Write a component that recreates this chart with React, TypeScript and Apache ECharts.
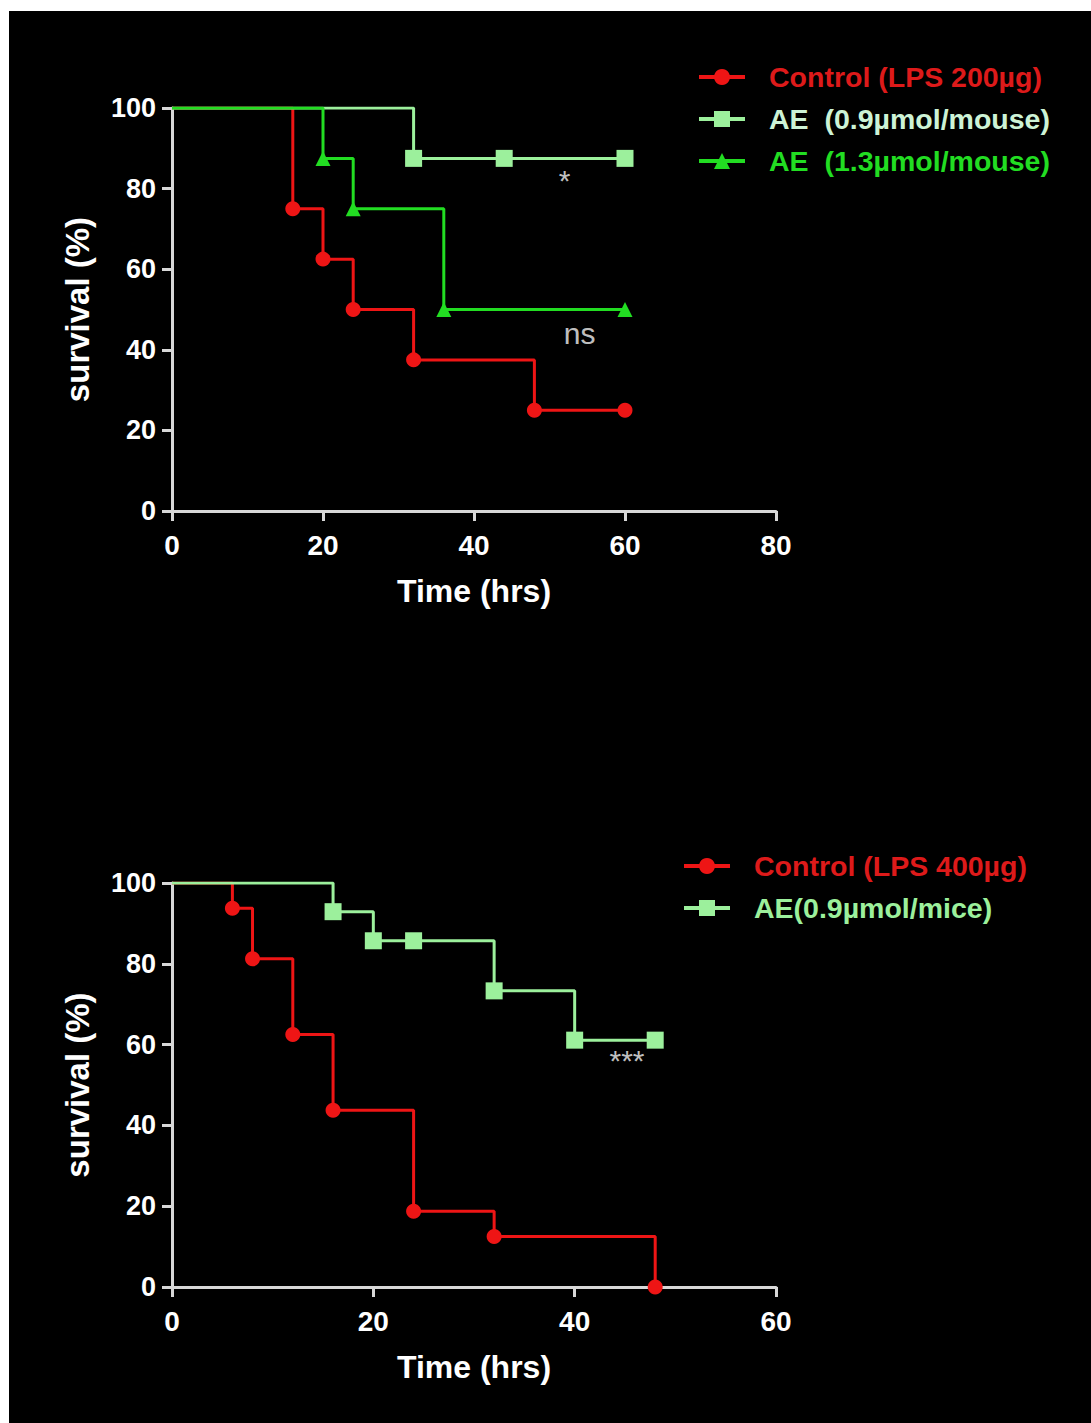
import React, { useEffect, useRef } from "react";
import * as echarts from "echarts";

// ---- Data: top panel (LPS 200 µg) ----
const TOP_CTRL_T = [0, 16, 20, 24, 32, 48, 60];
const TOP_CTRL_S = [100, 75, 62.5, 50, 37.5, 25, 25];
const TOP_AE09_T = [0, 32, 44, 60];
const TOP_AE09_S = [100, 87.5, 87.5, 87.5];
const TOP_AE13_T = [0, 20, 24, 36, 60];
const TOP_AE13_S = [100, 87.5, 75, 50, 50];

// ---- Data: bottom panel (LPS 400 µg) ----
const BOT_CTRL_T = [0, 6, 8, 12, 16, 24, 32, 48];
const BOT_CTRL_S = [100, 93.75, 81.25, 62.5, 43.75, 18.75, 12.5, 0];
const BOT_AE_T = [0, 16, 20, 24, 32, 40, 48];
const BOT_AE_S = [100, 92.9, 85.7, 85.7, 73.3, 61.1, 61.1];

// ---- Names / labels ----
const TOP_NAMES = ["Control (LPS 200µg)", "AE\u00a0 (0.9µmol/mouse)", "AE\u00a0 (1.3µmol/mouse)"];
const BOT_NAMES = ["Control (LPS 400µg)", "AE(0.9µmol/mice)"];
const X_TITLE = "Time (hrs)";
const Y_TITLE = "survival (%)";

// annotations: [x, y, text]
const TOP_NOTES: [number, number, string][] = [
  [52, 82, "*"],
  [54, 44, "ns"],
];
const BOT_NOTES: [number, number, string][] = [[45.2, 56, "***"]];

const RED = "#ee1515";
const LIGHT = "#9cf09c";
const BRIGHT = "#22dd22";
const AXIS = "#d8d8d8";
const SANS = "'Liberation Sans', Arial, sans-serif";

function km(t: number[], s: number[]) {
  return t.map((x, i) => (i === 0 ? { value: [x, s[i]], symbol: "none" } : { value: [x, s[i]] }));
}

function stepSeries(name: string, t: number[], s: number[], color: string, symbol: string, size: number, idx: number) {
  return {
    name,
    type: "line",
    step: "end",
    xAxisIndex: idx,
    yAxisIndex: idx,
    data: km(t, s),
    symbol,
    symbolSize: size,
    showAllSymbol: true,
    lineStyle: { color, width: 3 },
    itemStyle: { color, borderWidth: 0 },
  };
}

function noteSeries(notes: [number, number, string][], idx: number, id: string) {
  return {
    name: id,
    type: "scatter",
    xAxisIndex: idx,
    yAxisIndex: idx,
    symbolSize: 0,
    data: notes.map((n) => ({ value: [n[0], n[1]], label: { formatter: n[2] } })),
    label: {
      show: true,
      position: "inside",
      color: "#f4f4f4",
      fontSize: 30,
      fontFamily: SANS,
    },
    silent: true,
  };
}

function xAxis(idx: number, max: number) {
  return {
    type: "value",
    gridIndex: idx,
    min: 0,
    max,
    interval: 20,
    name: X_TITLE,
    nameLocation: "middle",
    nameGap: 64,
    nameTextStyle: { color: "#ffffff", fontSize: 32, fontWeight: "bold", fontFamily: SANS },
    axisLine: { show: true, lineStyle: { color: AXIS, width: 3 } },
    axisTick: { show: true, length: 10, lineStyle: { color: AXIS, width: 3 } },
    axisLabel: { color: "#ffffff", fontSize: 28, fontWeight: "bold", fontFamily: SANS, margin: 20, showMinLabel: true, showMaxLabel: true },
    splitLine: { show: false },
  };
}

function yAxis(idx: number) {
  return {
    type: "value",
    gridIndex: idx,
    min: 0,
    max: 100,
    interval: 20,
    name: Y_TITLE,
    nameLocation: "middle",
    nameGap: 78,
    nameTextStyle: { color: "#ffffff", fontSize: 33, fontWeight: "bold", fontFamily: SANS },
    axisLine: { show: true, lineStyle: { color: AXIS, width: 3 } },
    axisTick: { show: true, length: 10, lineStyle: { color: AXIS, width: 3 } },
    axisLabel: { color: "#ffffff", fontSize: 27, fontWeight: "bold", fontFamily: SANS, margin: 16, showMinLabel: true, showMaxLabel: true },
    splitLine: { show: false },
  };
}

function legend(names: string[], colors: string[], left: number, top: number) {
  return {
    orient: "vertical",
    left,
    top,
    itemWidth: 46,
    itemHeight: 20,
    itemGap: 12,
    align: "left",
    lineStyle: { width: 4 },
    data: names.map((n, i) => ({ name: n, textStyle: { color: colors[i] } })),
    textStyle: {
      fontSize: 28.5,
      fontWeight: "bold",
      fontFamily: SANS,
      lineHeight: 30,
      padding: [0, 0, 0, 19],
    },
  };
}

export default function App() {
  const ref = useRef<HTMLDivElement>(null);
  useEffect(() => {
    if (!ref.current) return;
    const chart = echarts.init(ref.current, null, { renderer: "svg" });
    const option: any = {
      animation: false,
      backgroundColor: "#000000",
      grid: [
        { left: 163, top: 97, width: 604, height: 403 },
        { left: 163, top: 872, width: 604, height: 404 },
      ],
      xAxis: [xAxis(0, 80), xAxis(1, 60)],
      yAxis: [yAxis(0), yAxis(1)],
      legend: [
        legend(TOP_NAMES, ["#dd1a1a", "#cdf3d6", BRIGHT], 683, 46),
        legend(BOT_NAMES, ["#dd1a1a", LIGHT], 668, 835),
      ],
      series: [
        stepSeries(TOP_NAMES[0], TOP_CTRL_T, TOP_CTRL_S, RED, "circle", 15, 0),
        stepSeries(TOP_NAMES[1], TOP_AE09_T, TOP_AE09_S, LIGHT, "rect", 17, 0),
        stepSeries(TOP_NAMES[2], TOP_AE13_T, TOP_AE13_S, BRIGHT, "triangle", 15, 0),
        stepSeries(BOT_NAMES[0], BOT_CTRL_T, BOT_CTRL_S, RED, "circle", 15, 1),
        stepSeries(BOT_NAMES[1], BOT_AE_T, BOT_AE_S, LIGHT, "rect", 17, 1),
        noteSeries(TOP_NOTES, 0, "notesTop"),
        noteSeries(BOT_NOTES, 1, "notesBottom"),
      ],
    };
    chart.setOption(option);
    return () => chart.dispose();
  }, []);
  return (
    <div
      ref={ref}
      style={{ position: "absolute", left: 9, top: 11, width: 1082, height: 1412, background: "#000" }}
    />
  );
}
